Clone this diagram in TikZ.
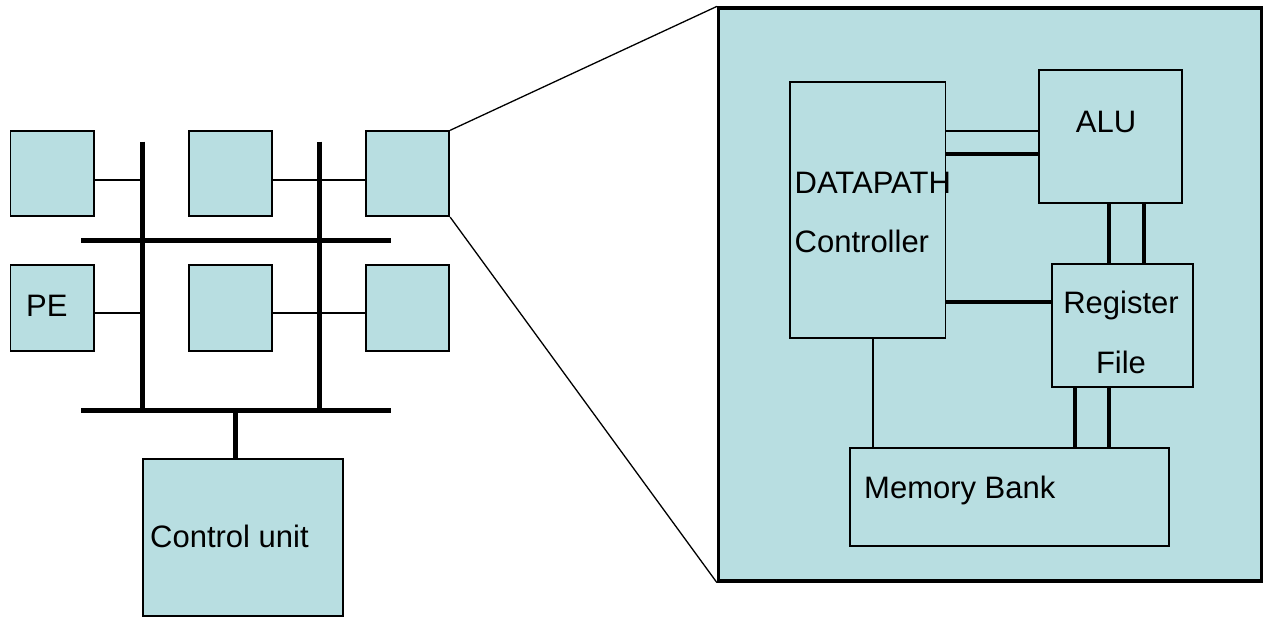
\documentclass[tikz,border=0pt]{standalone}
\usepackage{fontspec}
\setmainfont{Liberation Sans}
\definecolor{pefill}{RGB}{184,222,225}
\tikzset{
  x=1pt, y=-1pt,
  box/.style={draw=black, line width=1.8pt, fill=pefill, inner sep=0pt},
  bigbox/.style={draw=black, line width=3.2pt, fill=pefill, inner sep=0pt},
  lbl/.style={inner sep=0pt, font=\fontsize{31}{31}\selectfont, text=black},
  bus/.style={line width=5pt, line cap=butt},
  wire/.style={line width=1.8pt},
  thickwire/.style={line width=3.2pt},
  zoomline/.style={line width=1.3pt}
}
\begin{document}
\begin{tikzpicture}
\useasboundingbox (0,0) rectangle (1266,619);

% processing elements
\node[box, minimum width=83.5pt, minimum height=85pt] (pe1) at (52.3,173.7) {};
\node[box, minimum width=83.5pt, minimum height=85pt] (pe2) at (230.5,173.7) {};
\node[box, minimum width=83.5pt, minimum height=85pt] (pe3) at (407.5,173.7) {};
\node[box, minimum width=83.5pt, minimum height=86pt] (pe4) at (52.3,308) {};
\node[box, minimum width=83.5pt, minimum height=86pt] (pe5) at (230.5,308) {};
\node[box, minimum width=83.5pt, minimum height=86pt] (pe6) at (407.5,308) {};
\node[lbl, anchor=base west] (petext) at (26,316) {PE};

% control unit
\node[box, minimum width=200pt, minimum height=157pt] (cu) at (242.7,537.5) {};
\node[lbl, anchor=base west] (cutext) at (150,547) {Control unit};

% bus coordinates
\coordinate (vAtop) at (142,141.7);
\coordinate (vAbot) at (142,410.7);
\coordinate (vBtop) at (319,141.7);
\coordinate (vBbot) at (319,410.7);
\coordinate (hAw) at (81,240.7);
\coordinate (hAe) at (391,240.7);
\coordinate (hBw) at (81,410.7);
\coordinate (hBe) at (391,410.7);
\coordinate (tap) at (235,410.7);

% PE links to the buses
\draw[wire] (pe1.east |- 0,180) -- (vAtop |- 0,180);
\draw[wire] (pe2.east |- 0,180) -- (pe3.west |- 0,180);
\draw[wire] (pe4.east |- 0,313) -- (vAtop |- 0,313);
\draw[wire] (pe5.east |- 0,313) -- (pe6.west |- 0,313);

% buses
\draw[bus] (vAtop) -- (vAbot);
\draw[bus] (vBtop) -- (vBbot);
\draw[bus] (hAw) -- (hAe);
\draw[bus] (hBw) -- (hBe);
\draw[bus] (tap) -- (tap |- cu.north);

% enlarged PE
\node[bigbox, minimum width=543pt, minimum height=573pt] (big) at (990,294.5) {};
\draw[zoomline] (pe3.north east) -- (big.north west);
\draw[zoomline] (pe3.south east) -- (big.south west);

\node[box, minimum width=155.5pt, minimum height=256.3pt] (dp) at (867.75,209.85) {};
\node[box, minimum width=143.4pt, minimum height=133pt] (alu) at (1110.3,136.5) {};
\node[box, minimum width=141pt, minimum height=123pt] (reg) at (1122.5,325.5) {};
\node[box, minimum width=319pt, minimum height=98pt] (mem) at (1009.5,497) {};

\node[lbl, anchor=base west] (dptext) at (794.5,193) {DATAPATH};
\node[lbl, anchor=base west] (ctltext) at (794.5,252) {Controller};
\node[lbl, anchor=base] (alutext) at (1106,132) {ALU};
\node[lbl, anchor=base] (regtext) at (1121,313) {Register};
\node[lbl, anchor=base] (filetext) at (1121,373) {File};
\node[lbl, anchor=base west] (memtext) at (864,498) {Memory Bank};

% internal links
\draw[wire] (dp.east |- 0,131) -- (alu.west |- 0,131);
\draw[thickwire] (dp.east |- 0,154) -- (alu.west |- 0,154);
\draw[thickwire] (alu.south -| 1109,0) -- (reg.north -| 1109,0);
\draw[thickwire] (alu.south -| 1144,0) -- (reg.north -| 1144,0);
\draw[thickwire] (dp.east |- 0,302) -- (reg.west |- 0,302);
\draw[wire] (dp.south -| 873,0) -- (mem.north -| 873,0);
\draw[thickwire] (reg.south -| 1075,0) -- (mem.north -| 1075,0);
\draw[thickwire] (reg.south -| 1109,0) -- (mem.north -| 1109,0);
\end{tikzpicture}
\end{document}
